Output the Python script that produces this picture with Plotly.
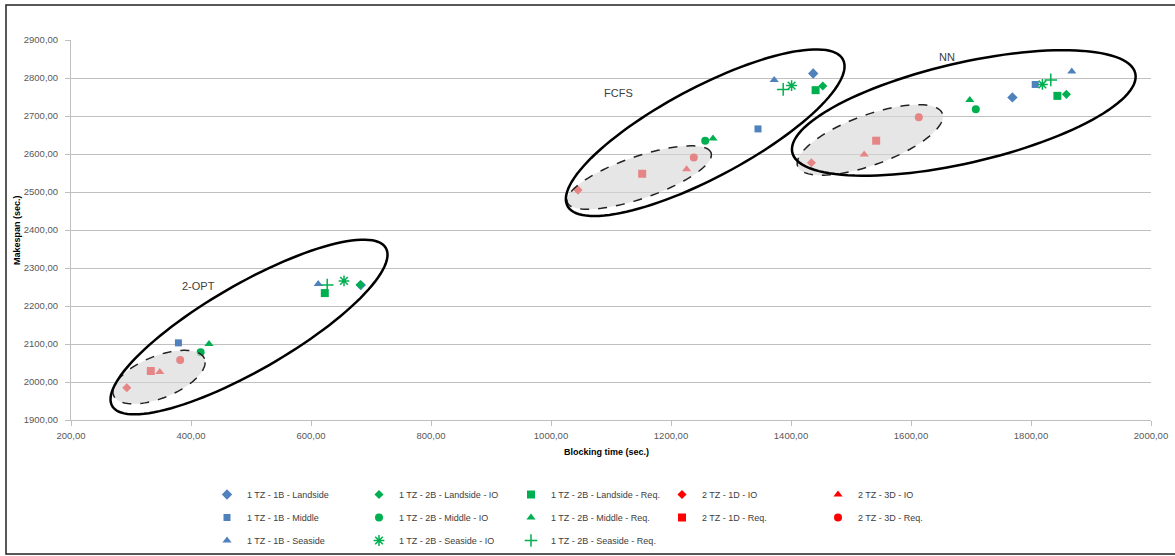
import numpy as np
import plotly.graph_objects as go

# ---------------- data ----------------
series_names = [
    "1 TZ - 1B - Landside", "1 TZ - 1B - Middle", "1 TZ - 1B - Seaside",
    "1 TZ - 2B - Landside - IO", "1 TZ - 2B - Middle - IO", "1 TZ - 2B - Seaside - IO",
    "1 TZ - 2B - Landside - Req.", "1 TZ - 2B - Middle - Req.", "1 TZ - 2B - Seaside - Req.",
    "2 TZ - 1D - IO", "2 TZ - 1D - Req.",
    "2 TZ - 3D - IO", "2 TZ - 3D - Req.",
]
# blocking time (x) per series: [2-OPT, FCFS, NN]
blocking_1b_landside = [683, 1437, 1769]
blocking_1b_middle = [379, 1345, 1807]
blocking_1b_seaside = [612, 1372, 1868]
blocking_2b_landside_io = [682, 1453, 1859]
blocking_2b_middle_io = [416, 1257, 1708]
blocking_2b_seaside_io = [655, 1401, 1819]
blocking_2b_landside_req = [623, 1441, 1844]
blocking_2b_middle_req = [430, 1270, 1698]
blocking_2b_seaside_req = [627, 1387, 1833]
blocking_1d_io = [293, 1045, 1434]
blocking_1d_req = [333, 1152, 1542]
blocking_3d_io = [348, 1226, 1522]
blocking_3d_req = [382, 1238, 1613]
# makespan (y)
makespan_1b_landside = [2255, 2812, 2749]
makespan_1b_middle = [2103, 2666, 2783]
makespan_1b_seaside = [2258, 2795, 2817]
makespan_2b_landside_io = [2256, 2779, 2757]
makespan_2b_middle_io = [2078, 2635, 2718]
makespan_2b_seaside_io = [2266, 2780, 2783]
makespan_2b_landside_req = [2234, 2768, 2753]
makespan_2b_middle_req = [2100, 2641, 2742]
makespan_2b_seaside_req = [2255, 2770, 2795]
makespan_1d_io = [1985, 2505, 2577]
makespan_1d_req = [2029, 2548, 2635]
makespan_3d_io = [2026, 2560, 2599]
makespan_3d_req = [2058, 2591, 2697]

x_values = [blocking_1b_landside, blocking_1b_middle, blocking_1b_seaside,
            blocking_2b_landside_io, blocking_2b_middle_io, blocking_2b_seaside_io,
            blocking_2b_landside_req, blocking_2b_middle_req, blocking_2b_seaside_req,
            blocking_1d_io, blocking_1d_req, blocking_3d_io, blocking_3d_req]
y_values = [makespan_1b_landside, makespan_1b_middle, makespan_1b_seaside,
            makespan_2b_landside_io, makespan_2b_middle_io, makespan_2b_seaside_io,
            makespan_2b_landside_req, makespan_2b_middle_req, makespan_2b_seaside_req,
            makespan_1d_io, makespan_1d_req, makespan_3d_io, makespan_3d_req]

x_ticks = [200, 400, 600, 800, 1000, 1200, 1400, 1600, 1800, 2000]
y_ticks = [1900, 2000, 2100, 2200, 2300, 2400, 2500, 2600, 2700, 2800, 2900]
x_title = "Blocking time (sec.)"
y_title = "Makespan (sec.)"

# ---------------- styles ----------------
BLUE, GREEN, RED = "#4F81BD", "#00B050", "#FF0000"
styles = [
    (BLUE, "diamond", 8), (BLUE, "square", 7), (BLUE, "triangle-up", 8),
    (GREEN, "diamond", 7), (GREEN, "circle", 8), (GREEN, "asterisk-open", 9),
    (GREEN, "square", 8), (GREEN, "triangle-up", 8), (GREEN, "cross-thin-open", 9),
    (RED, "diamond", 7), (RED, "square", 8), (RED, "triangle-up", 8), (RED, "circle", 8),
]
legend_of = ["legend", "legend", "legend", "legend2", "legend2", "legend2",
             "legend3", "legend3", "legend3", "legend4", "legend4", "legend5", "legend5"]

fig = go.Figure()
for i, name in enumerate(series_names):
    color, sym, size = styles[i]
    line = dict(color=color, width=1.5) if sym.endswith("open") else dict(width=0)
    fig.add_trace(go.Scatter(
        x=x_values[i], y=y_values[i], mode="markers", name=name,
        marker=dict(color=color, symbol=sym, size=size, line=line),
        legend=legend_of[i], legendgroup=f"g{i}",
    ))

# ---------------- ellipses (pixel geometry -> data) ----------------
W, H = 1175, 556
ML, MR, MT, MB = 71, 24, 40, 136
XMIN, XMAX, YMIN, YMAX = 200, 2000, 1900, 2900
sx = (W - ML - MR) / (XMAX - XMIN)
sy = (H - MT - MB) / (YMAX - YMIN)


def ellipse_path(cx, cy, a, b, theta_deg):
    th = np.deg2rad(theta_deg)
    t = np.linspace(0, 2 * np.pi, 120)
    dx = a * np.cos(t) * np.cos(th) - b * np.sin(t) * np.sin(th)
    dy = a * np.cos(t) * np.sin(th) + b * np.sin(t) * np.cos(th)
    xs = cx + dx / sx
    ys = cy + dy / sy
    pts = [f"{x:.3f},{y:.3f}" for x, y in zip(xs, ys)]
    return "M " + " L ".join(pts) + " Z"


inner = [(346.7, 2013, 49, 21, 22), (1147, 2538, 76, 21, 19), (1531.7, 2637, 77, 25, 20)]
outer = [(496.7, 2144.7, 158, 43, 30), (1257, 2656, 156, 45, 28), (1688, 2708, 176, 50, 13)]
for e in inner:
    fig.add_shape(type="path", path=ellipse_path(*e), xref="x", yref="y",
                  fillcolor="rgba(215,215,215,0.62)",
                  line=dict(color="#222222", width=1.5, dash="dash"), layer="above")
for e in outer:
    fig.add_shape(type="path", path=ellipse_path(*e), xref="x", yref="y",
                  line=dict(color="#000000", width=2.5), layer="above")


def px2paper_x(px):
    return (px - ML) / (W - ML - MR)


def px2paper_y(py):
    return (H - MB - py) / (H - MT - MB)


# frame around the whole picture
fig.add_shape(type="rect", xref="paper", yref="paper",
              x0=px2paper_x(6), x1=px2paper_x(1185), y0=px2paper_y(554), y1=px2paper_y(5),
              line=dict(color="#222222", width=1.5), layer="below")

labels = [("2-OPT", 411.7, 2252.6), ("FCFS", 1113, 2760.5), ("NN", 1659.5, 2856)]
for txt, ax_, ay_ in labels:
    fig.add_annotation(x=ax_, y=ay_, text=txt, showarrow=False,
                       font=dict(size=11, color="#404040", family="Liberation Sans"))

# axis titles
title_font = dict(size=9, color="#000000", family="Liberation Sans")
fig.add_annotation(xref="paper", yref="paper", x=px2paper_x(606), y=px2paper_y(452),
                   text=f"<b>{x_title}</b>", showarrow=False, font=title_font,
                   xanchor="center", yanchor="middle")
fig.add_annotation(xref="paper", yref="paper", x=px2paper_x(17), y=px2paper_y(230),
                   text=f"<b>{y_title}</b>", showarrow=False, font=title_font, textangle=-90,
                   xanchor="center", yanchor="middle")

axis_common = dict(showline=True, linecolor="#BFBFBF", linewidth=1, ticks="outside",
                   ticklen=5, tickcolor="#BFBFBF", tickformat=".2f",
                   tickfont=dict(size=9.5, color="#595959", family="Liberation Sans"),
                   zeroline=False, automargin=False)

fig.update_xaxes(range=[XMIN, XMAX], tickvals=x_ticks, showgrid=False,
                 ticklabelstandoff=2, **axis_common)
fig.update_yaxes(range=[YMIN, YMAX], tickvals=y_ticks, showgrid=True,
                 gridcolor="#C0C0C0", gridwidth=1, ticklabelstandoff=5, **axis_common)

leg_common = dict(orientation="v", xanchor="left", yanchor="top", bgcolor="rgba(0,0,0,0)",
                  xref="container", yref="container",
                  font=dict(size=9, color="#404040", family="Liberation Sans"),
                  tracegroupgap=4, itemsizing="trace")
legend_cols_px = [207, 359, 511, 662, 818]
legend_top_px = 480
layout_legends = {}
for k, px in enumerate(legend_cols_px):
    key = "legend" if k == 0 else f"legend{k + 1}"
    layout_legends[key] = dict(x=px / W, y=1 - legend_top_px / H, **leg_common)

fig.update_layout(
    width=W, height=H,
    margin=dict(l=ML, r=MR, t=MT, b=MB, autoexpand=False),
    plot_bgcolor="white", paper_bgcolor="white",
    separators=",.",
    showlegend=True,
    **layout_legends,
)

fig.write_html("out.html", config={"displayModeBar": False},
               post_script="document.body.style.margin='0';")
